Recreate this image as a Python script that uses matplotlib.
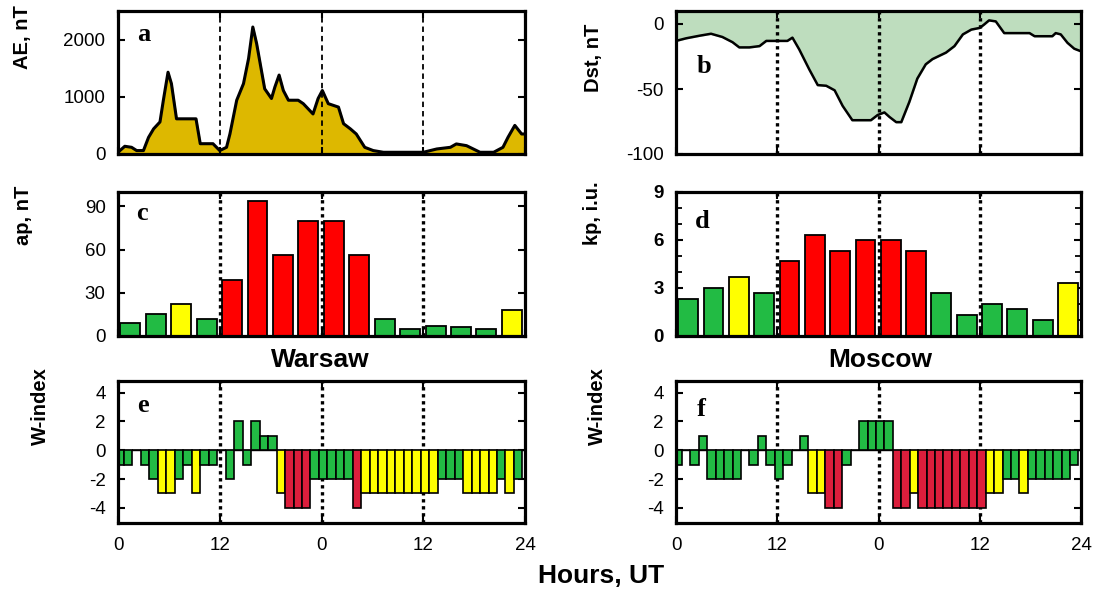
import numpy as np
import matplotlib
matplotlib.use("Agg")
import matplotlib.pyplot as plt

plt.rcParams['font.family'] = ['Liberation Sans', 'DejaVu Sans']

# ---------------- data ----------------
ae_hours = [0.0, 0.8, 1.6, 2.2, 3.0, 3.6, 4.2, 4.95, 5.35, 5.9, 6.3, 6.9, 9.2, 9.7,
            11.2, 12.0, 12.8, 13.2, 14.0, 14.8, 15.4, 15.9, 16.35, 17.3, 18.1, 18.5,
            19.0, 19.5, 20.1, 21.25, 21.85, 23.0, 23.6, 24.1, 24.8, 26.0, 26.6, 27.4,
            28.1, 29.1, 30.1, 31.3, 36.0, 37.6, 39.2, 39.9, 41.1, 42.7, 44.3, 45.4,
            46.0, 46.8, 47.6, 48.0]
ae_values = [30, 135, 117, 60, 60, 290, 440, 560, 940, 1430, 1230, 615, 615, 180,
             180, 60, 117, 350, 940, 1230, 1670, 2220, 1930, 1140, 970, 1170,
             1380, 1110, 940, 940, 880, 700, 970, 1110, 880, 820, 530, 440,
             350, 117, 60, 30, 30, 88, 117, 176, 146, 30, 30, 117,
             293, 500, 350, 350]

dst_hours = [0.0, 1.2, 2.8, 4.15, 5.5, 6.7, 7.5, 8.7, 9.9, 10.7, 13.2, 13.8, 14.6,
             15.8, 16.8, 17.8, 18.8, 19.75, 20.9, 23.1, 23.9, 24.7, 25.3, 26.1,
             26.7, 27.65, 28.6, 29.6, 30.4, 32.0, 33.0, 34.0, 35.0, 36.0, 36.5,
             37.1, 37.9, 38.9, 41.9, 42.5, 44.6, 45.0, 45.6, 46.4, 47.2, 48.0]
dst_values = [-13, -11, -9, -7.5, -10, -14, -18, -18, -17, -13, -13, -10.5, -19.5,
              -35, -47, -47.5, -51, -63, -74, -74, -70, -68, -71.5, -75.5,
              -75.5, -60, -42, -31, -27, -22, -17, -8, -4.3, -3, -0.5,
              2.8, 2, -7, -7, -9.4, -9.4, -7, -8, -14.5, -19, -21]

three_hour_bins = np.arange(16)
ap_values = [9, 15, 22, 12, 39, 94, 56, 80, 80, 56, 12, 5, 7, 6, 5, 18]
kp_values = [2.33, 3.0, 3.67, 2.67, 4.67, 6.33, 5.33, 6.0, 6.0, 5.33, 2.67, 1.33,
             2.0, 1.67, 1.0, 3.33]
level_class = ['g', 'g', 'y', 'g', 'r', 'r', 'r', 'r', 'r', 'r', 'g', 'g', 'g', 'g', 'g', 'y']

hours = np.arange(48)
w_warsaw = [-1, -1, 0, -1, -2, -3, -3, -2, -1, -3, -1, -1, 0, -2, 2, -1, 2, 1, 1, -3,
            -4, -4, -4, -2, -2, -2, -2, -2, -4, -3, -3, -3, -3, -3, -3, -3, -3, -3,
            -2, -2, -2, -3, -3, -3, -3, -2, -3, -2]
w_moscow = [-1, 0, -1, 1, -2, -2, -2, -2, 0, -1, 1, -1, -2, -1, 0, 1, -3, -3, -4, -4,
            -1, 0, 2, 2, 2, 2, -4, -4, -3, -4, -4, -4, -4, -4, -4, -4, -4, -3, -3,
            -2, -2, -3, -2, -2, -2, -2, -2, -1]

xtick_pos = [0, 12, 24, 36, 48]
xtick_labels = ['0', '12', '0', '12', '24']

# ---------------- style ----------------
GREEN = '#22BB44'
YELLOW = '#FFFF00'
RED = '#FF0000'
WRED = '#DC1E3C'
class_color = {'g': GREEN, 'y': YELLOW, 'r': RED}

def w_color(v):
    a = abs(v)
    if a >= 4:
        return WRED
    if a == 3:
        return YELLOW
    return GREEN

fig = plt.figure(figsize=(10.99, 5.90), dpi=100)
W, H = 1099.0, 590.0

def add_axes(l, r, t, b):
    return fig.add_axes([l / W, 1 - b / H, (r - l) / W, (b - t) / H])

L0, L1 = 118, 525
R0, R1 = 676, 1081
rows = [(11, 154), (192, 336), (381, 523)]

ax_a = add_axes(L0, L1, *rows[0])
ax_b = add_axes(R0, R1, *rows[0])
ax_c = add_axes(L0, L1, *rows[1])
ax_d = add_axes(R0, R1, *rows[1])
ax_e = add_axes(L0, L1, *rows[2])
ax_f = add_axes(R0, R1, *rows[2])

def style(ax, dashed=False):
    ax.set_xlim(0, 48)
    ax.set_xticks(xtick_pos)
    for s in ax.spines.values():
        s.set_linewidth(2.3)
    ax.tick_params(direction='in', length=5, width=1.5, right=True, top=True,
                   labelsize=13.5)
    ax.tick_params(axis='y', pad=9)
    ax.tick_params(axis='x', pad=10)
    for xv in [12, 24, 36]:
        if dashed:
            ax.axvline(xv, color='k', lw=1.3, ls=(0, (3, 2.2)), zorder=3)
        else:
            ax.axvline(xv, color='k', lw=2.4, ls=(0, (1, 1.1)), zorder=1.5)

# a: AE
ax_a.fill_between(ae_hours, 0, ae_values, color='#DDB800', zorder=1)
ax_a.plot(ae_hours, ae_values, color='k', lw=2.2, zorder=2)
ax_a.set_ylim(0, 2500)
ax_a.set_yticks([0, 1000, 2000])
style(ax_a, dashed=True)

# b: Dst
ax_b.set_ylim(-100, 10)
ax_b.fill_between(dst_hours, dst_values, 10, color='#BEDDBE', zorder=1)
ax_b.plot(dst_hours, dst_values, color='k', lw=1.8, zorder=2)
ax_b.set_yticks([-100, -50, 0])
ax_b.set_yticklabels(['-100', '-50', '0'])
style(ax_b)
for ln in ax_b.lines[1:]:
    ln.set_zorder(3)

# c: ap
bar_centers = three_hour_bins * 3 + 1.45
ax_c.bar(bar_centers, ap_values, width=2.35, color=[class_color[c] for c in level_class],
         edgecolor='k', lw=1.3, zorder=2)
ax_c.set_ylim(0, 100)
ax_c.set_yticks([0, 30, 60, 90])
style(ax_c)
for ln in ax_c.lines:
    ln.set_zorder(3)

# d: kp
ax_d.bar(bar_centers, kp_values, width=2.35, color=[class_color[c] for c in level_class],
         edgecolor='k', lw=1.3, zorder=2)
ax_d.set_ylim(0, 9)
ax_d.set_yticks([0, 3, 6, 9])
ax_d.set_yticks(np.arange(0, 10), minor=True)
style(ax_d)
ax_d.tick_params(which='minor', direction='in', length=4, width=1.3, right=True)
for lab in ax_d.get_yticklabels():
    lab.set_fontweight('bold')
for ln in ax_d.lines:
    ln.set_zorder(3)

# e, f: W-index
for ax, vals in [(ax_e, w_warsaw), (ax_f, w_moscow)]:
    ax.axhline(0, color='k', lw=1.0, zorder=1)
    ax.bar(hours - 0.3, vals, width=1.0, align='edge',
           color=[w_color(v) for v in vals], edgecolor='k', lw=1.2, zorder=2)
    ax.set_ylim(-5.05, 4.8)
    ax.set_yticks([-4, -2, 0, 2, 4])
    ax.set_yticklabels(['-4', '-2', '0', '2', '4'])
    style(ax)
    ax.set_xticklabels(xtick_labels)

for ax in [ax_a, ax_b, ax_c, ax_d]:
    ax.set_xticklabels([])

# y labels
lab_kw = dict(fontsize=14.5, fontweight='bold')
ylabels = [(ax_a, 'AE, nT', -0.211, 0.82), (ax_c, 'ap, nT', -0.209, 0.84),
           (ax_e, 'W-index', -0.167, 0.82), (ax_b, 'Dst, nT', -0.18, 0.67),
           (ax_d, 'kp, i.u.', -0.183, 0.85), (ax_f, 'W-index', -0.17, 0.82)]
for ax, txt, xx, yy in ylabels:
    ax.set_ylabel(txt, **lab_kw)
    ax.yaxis.set_label_coords(xx, yy)

# panel letters
letters = [(ax_a, 'a', 0.047, 0.79), (ax_b, 'b', 0.052, 0.566), (ax_c, 'c', 0.044, 0.806),
           (ax_d, 'd', 0.047, 0.75), (ax_e, 'e', 0.047, 0.78), (ax_f, 'f', 0.052, 0.754)]
for ax, t, xx, yy in letters:
    ax.text(xx, yy, t, transform=ax.transAxes, fontsize=19, fontweight='bold',
            family=['Liberation Serif', 'DejaVu Serif'], va='baseline', ha='left', zorder=5)

fig.text(320 / W, 1 - 360 / H, 'Warsaw', fontsize=19, fontweight='bold', ha='center', va='center')
fig.text(880 / W, 1 - 360 / H, 'Moscow', fontsize=19, fontweight='bold', ha='center', va='center')
fig.text(601 / W, 1 - 576 / H, 'Hours, UT', fontsize=19, fontweight='bold', ha='center', va='center')

fig.savefig('out.png', dpi=100)
